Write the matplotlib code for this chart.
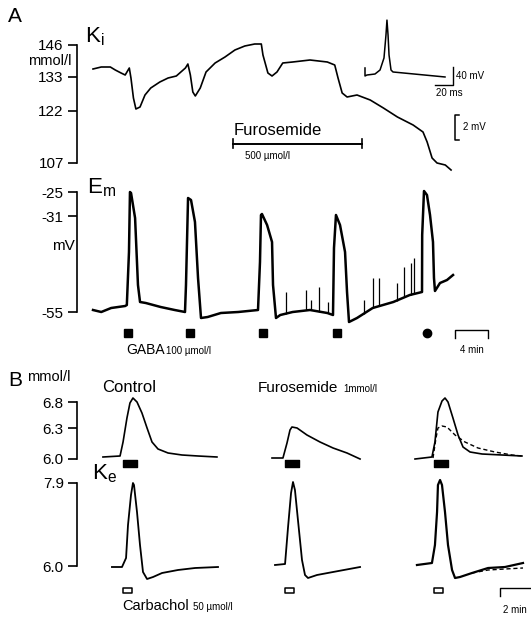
import numpy as np
import matplotlib
matplotlib.use('Agg')
import matplotlib.pyplot as plt

plt.rcParams['font.family'] = ['Liberation Sans', 'DejaVu Sans']
plt.rcParams['mathtext.fontset'] = 'custom'
plt.rcParams['mathtext.rm'] = 'Liberation Sans'
plt.rcParams['mathtext.it'] = 'Liberation Sans'

W, H = 531, 618

# ---------------- panel A ----------------
# intracellular K electrode (mV relative to the 146 mmol/l level), time in min
ki_t = [0.0, 1.0, 2.1, 2.7, 3.4, 3.9, 4.4, 4.6, 4.9, 5.2, 5.7, 6.3, 7.0, 8.1, 9.1,
        10.1, 11.2, 11.5, 11.8, 12.1, 12.4, 13.0, 13.7, 14.8, 16.0, 17.2, 18.4,
        19.6, 20.4, 20.6, 21.2, 21.7, 22.3, 23.0, 24.2, 26.3, 28.4, 29.3, 29.7,
        30.2, 30.8, 32.0, 33.6, 35.2, 36.9, 38.8, 40.0, 40.5, 41.1, 41.7, 42.7, 43.4]
ki_mv = [-1.92, -1.76, -1.76, -2.0, -2.24, -2.4, -1.84, -2.64, -4.24, -5.12, -4.96,
         -4.0, -3.44, -2.96, -2.64, -2.48, -1.84, -1.52, -2.4, -3.76, -4.08, -3.44,
         -2.16, -1.44, -0.96, -0.4, -0.08, 0.08, 0.08, -0.8, -2.24, -2.48, -2.16,
         -1.44, -1.36, -1.2, -1.36, -1.6, -2.64, -3.84, -4.16, -4.0, -4.4, -5.04,
         -5.76, -6.4, -6.96, -7.76, -9.04, -9.44, -9.6, -10.0]
ki_ticks = [0, -2.56, -5.28, -9.44]
ki_labels = ['146', '133', '122', '107']
furo_a = (17.0, 32.6)          # furosemide application, min
furo_a_level = -7.9

# membrane potential, mV
em_t = [0.0, 1.0, 2.2, 3.9, 4.1, 4.36, 4.48, 4.61, 5.1, 5.45, 5.7, 6.4, 8.2, 9.9,
        11.15, 11.27, 11.52, 11.88, 12.36, 12.73, 13.09, 13.9, 15.5, 17.6, 20.0,
        20.24, 20.36, 20.48, 21.1, 21.7, 21.82, 22.18, 22.7, 24.2, 26.3, 28.4,
        29.09, 29.21, 29.45, 29.94, 30.55, 30.79, 31.03, 32.0, 33.9, 36.4, 38.4,
        39.88, 39.9, 40.12, 40.48, 40.85, 41.21, 41.33, 41.45, 42.06, 42.91, 43.64]
em_mv = [-54.5, -55, -54, -53.5, -53.25, -40, -25, -25.25, -31.5, -48.25, -52.5,
         -52.75, -53.75, -54.5, -55, -48.25, -26.5, -27, -32.5, -46.5, -56.5, -56.25,
         -55.25, -55, -54.5, -42.5, -30.75, -30.5, -33.25, -37.5, -48.25, -56.5,
         -55.75, -55, -54.5, -55.25, -55.75, -39, -30.75, -33.25, -40, -50, -57.5,
         -56.5, -54, -52.5, -50.75, -50, -35.75, -24.75, -25.75, -30.75, -37.5,
         -46.5, -49.75, -47.75, -47, -45.75]
spike_t = [23.4, 25.8, 26.4, 27.4, 28.5, 32.8, 33.9, 34.7, 36.8, 37.7, 38.5, 38.9]
spike_top = [-50, -49.5, -52, -48.75, -52.5, -52, -46.5, -46.5, -47.75, -43.75,
             -42.75, -41.5]
gaba_t = [4.2, 11.8, 20.6, 29.6, 40.5]
em_ticks = [-25, -31, -55]

# inset action potential
ap_ms = [0, 0, 2.2, 11.1, 16.7, 21.1, 23.3, 24.4, 25.6, 26.7, 28.9, 31.1, 88.9]
ap_mv = [15.6, -2.2, 0, 2.2, 11.1, 37.8, 88.9, 122, 88.9, 44.4, 11.1, 6.7, -4.4]

# ---------------- panel B ----------------
# K_e electrode signal (arbitrary mV units above baseline), time from stimulus, min
c1_top_t = [-1.27, -0.13, 0.07, 0.33, 0.53, 0.73, 1.0, 1.33, 1.67, 2.0, 2.4, 3.07, 4.0, 5.07, 6.33]
c1_top_v = [0.2, 0.3, 1.7, 4.1, 5.6, 6.1, 5.7, 4.6, 3.1, 1.7, 1.0, 0.6, 0.4, 0.3, 0.2]
c1_bot_t = [-0.67, 0.0, 0.27, 0.4, 0.6, 0.73, 0.8, 1.0, 1.2, 1.4, 1.67, 2.07, 2.67, 3.73, 4.87, 6.4]
c1_bot_v = [-0.1, -0.1, 0.8, 4.1, 7.1, 8.3, 8.1, 5.4, 2.1, -0.6, -1.3, -1.1, -0.7, -0.4, -0.2, -0.1]

c2_top_t = [-0.8, -0.07, 0.2, 0.4, 0.53, 0.87, 1.53, 2.4, 3.27, 4.2, 5.07]
c2_top_v = [0.1, 0.1, 1.6, 2.9, 3.2, 3.1, 2.4, 1.7, 1.1, 0.6, 0.0]
c2_bot_t = [-0.6, 0.07, 0.27, 0.47, 0.6, 0.73, 0.93, 1.2, 1.4, 1.6, 2.2, 3.27, 5.07]
c2_bot_v = [0.1, 0.2, 3.9, 7.3, 8.4, 7.6, 4.6, 0.6, -0.9, -1.2, -0.9, -0.6, -0.1]

c3_top_t = [-1.2, -0.07, 0.13, 0.33, 0.6, 0.8, 1.0, 1.33, 1.67, 2.0, 2.47, 3.27, 4.6, 5.93]
c3_top_v = [0.0, 0.2, 1.7, 4.7, 5.8, 6.1, 5.7, 4.1, 2.4, 1.2, 0.7, 0.5, 0.4, 0.3]
c3_topd_t = [0.0, 0.2, 0.33, 0.6, 0.93, 1.47, 2.13, 3.0, 4.13, 5.27, 5.93]
c3_topd_v = [0.1, 2.1, 3.1, 3.3, 3.2, 2.4, 1.7, 1.1, 0.7, 0.4, 0.3]
c3_bot_t = [-1.07, -0.07, 0.13, 0.27, 0.33, 0.47, 0.6, 0.8, 1.0, 1.27, 1.47, 1.8, 2.6, 3.67, 4.8, 6.0]
c3_bot_v = [0.1, 0.3, 2.1, 5.4, 8.1, 8.6, 8.1, 5.4, 2.1, -0.4, -1.2, -1.1, -0.7, -0.2, -0.1, 0.3]
c3_botd_t = [2.6, 3.67, 4.8, 6.0]
c3_botd_v = [-0.7, -0.4, -0.3, -0.2]

ke_top_ticks = [5.7, 3.1, 0]
ke_top_labels = ['6.8', '6.3', '6.0']
ke_bot_ticks = [8.3, 0]
ke_bot_labels = ['7.9', '6.0']
gaba_dur = 0.95
carb_dur = 0.6

fig = plt.figure(figsize=(W / 100, H / 100), dpi=100)


def add_ax(l, t, r, b):
    ax = fig.add_axes([l / W, 1 - b / H, (r - l) / W, (b - t) / H])
    ax.patch.set_alpha(0)
    for s in ['top', 'right', 'bottom']:
        ax.spines[s].set_visible(False)
    ax.set_xticks([])
    ax.tick_params(axis='y', direction='out', length=6.5, width=1.2, labelsize=11, pad=3)
    ax.spines['left'].set_linewidth(1.2)
    return ax


def ftext(x, y, s, **kw):
    kw.setdefault('va', 'center')
    fig.text(x / W, 1 - y / H, s, **kw)


# ---- Ki ----
ax = add_ax(77, 30, 531, 175)
ax.set_xlim(-1.94, 53.09)
ax.set_ylim(-10.4, 1.2)
ax.plot(ki_t, ki_mv, color='k', lw=1.2)
ax.set_yticks(ki_ticks, ki_labels)
ax.spines['left'].set_bounds(ki_ticks[-1], ki_ticks[0])
ax.plot(furo_a, [furo_a_level] * 2, color='k', lw=1.4)
for x in furo_a:
    ax.plot([x, x], [furo_a_level - 0.35, furo_a_level + 0.35], color='k', lw=1.2)
ax.text(furo_a[0] + 0.1, furo_a_level + 0.45, 'Furosemide', ha='left', va='bottom', fontsize=12)
ax.text(furo_a[0] + 1.4, furo_a_level - 0.55, '500 µmol/l', ha='left', va='top', fontsize=7)
# 2 mV bar
ax.plot([44.4, 43.9, 43.9, 44.4], [-5.6, -5.6, -7.6, -7.6], color='k', lw=1.1)
ax.text(44.9, -6.6, '2 mV', fontsize=7, va='center')

# ---- inset AP ----
axi = fig.add_axes([355 / W, 1 - 100 / H, 120 / W, 90 / H])
axi.axis('off')
axi.set_xlim((355 - 365) / 0.9, (475 - 365) / 0.9)
axi.set_ylim((75 - 100) / 0.45, (75 - 10) / 0.45)
axi.plot(ap_ms, ap_mv, color='k', lw=1.1)
axi.plot([77.8, 97.8, 97.8], [-22.2, -22.2, 17.8], color='k', lw=1.0)
axi.text(101.5, -2.2, '40 mV', fontsize=7, va='center')
axi.text(78.9, -30, '20 ms', fontsize=7, va='top')

# ---- Em ----
ax = add_ax(77, 180, 531, 345)
ax.set_xlim(-1.94, 53.09)
ax.set_ylim(-63.25, -22)
ax.plot(em_t, em_mv, color='k', lw=1.8)
base = np.interp(spike_t, em_t, em_mv)
ax.vlines(spike_t, base, spike_top, color='k', lw=0.9)
ax.set_yticks(em_ticks, ['-25', '-31', '-55'])
ax.spines['left'].set_bounds(-55, -25)
ax.plot(gaba_t[:4], [-60.3] * 4, 's', color='k', ms=5.5)
ax.plot(gaba_t[4:], [-60.3], 'o', color='k', ms=6)
ax.plot([43.9, 43.9, 47.9, 47.9], [-61.5, -59.5, -59.5, -61.5], color='k', lw=1.0)
ax.text(45.9, -64.5, '4 min', fontsize=7, ha='center', va='center')

ftext(8, 17, 'A', fontsize=15)
ftext(85, 37, r'K$_{\rm i}$', fontsize=16)
ftext(72, 61, 'mmol/l', fontsize=10.5, ha='right')
ftext(87, 188, r'E$_{\rm m}$', fontsize=16)
ftext(75, 246, 'mV', fontsize=11, ha='right')
ftext(126, 350, 'GABA', fontsize=10)
ftext(166, 351, '100 µmol/l', fontsize=7)

# ---- panel B ----
cols = [(77, 232, 122), (262, 372, 284), (405, 531, 433)]
tops = [(c1_top_t, c1_top_v), (c2_top_t, c2_top_v), (c3_top_t, c3_top_v)]
bots = [(c1_bot_t, c1_bot_v), (c2_bot_t, c2_bot_v), (c3_bot_t, c3_bot_v)]
for i, (l, r, on) in enumerate(cols):
    at = add_ax(l, 392, r, 472)
    ab = add_ax(l, 475, r, 600)
    for a in (at, ab):
        a.set_xlim((l - on) / 15, (r - on) / 15)
    at.set_ylim(-1.3, 6.7)
    ab.set_ylim(-3.4, 9.1)
    at.plot(*tops[i], color='k', lw=1.2)
    ab.plot(*bots[i], color='k', lw=1.6 if i == 2 else 1.3)
    at.broken_barh([(0.05, gaba_dur)], (-0.8, 0.7), color='k')
    ab.broken_barh([(0.07, carb_dur)], (-2.7, 0.5), facecolor='white', edgecolor='k', lw=1.1)
    if i == 0:
        at.set_yticks(ke_top_ticks, ke_top_labels)
        at.spines['left'].set_bounds(0, 5.7)
        ab.set_yticks(ke_bot_ticks, ke_bot_labels)
        ab.spines['left'].set_bounds(0, 8.3)
    else:
        for a in (at, ab):
            a.spines['left'].set_visible(False)
            a.set_yticks([])
    if i == 2:
        at.plot(c3_topd_t, c3_topd_v, color='k', lw=1.0, ls=(0, (3, 2)))
        ab.plot(c3_botd_t, c3_botd_v, color='k', lw=1.0, ls=(0, (3, 2)))
        ab.plot([4.47, 4.47, 6.47], [-3.0, -2.2, -2.2], color='k', lw=1.0, clip_on=False)
        ab.text(5.47, -4.4, '2 min', fontsize=7, ha='center', va='center', clip_on=False)

ftext(8, 381, 'B', fontsize=15)
ftext(71, 377, 'mmol/l', fontsize=10.5, ha='right')
ftext(102, 388, 'Control', fontsize=12)
ftext(258, 388, 'Furosemide', fontsize=11)
ftext(343, 389, '1mmol/l', fontsize=7)
ftext(92, 474, r'K$_{\rm e}$', fontsize=16)
ftext(122, 606, 'Carbachol', fontsize=10.5)
ftext(193, 607, '50 µmol/l', fontsize=7)

fig.savefig('out.png', dpi=100)
